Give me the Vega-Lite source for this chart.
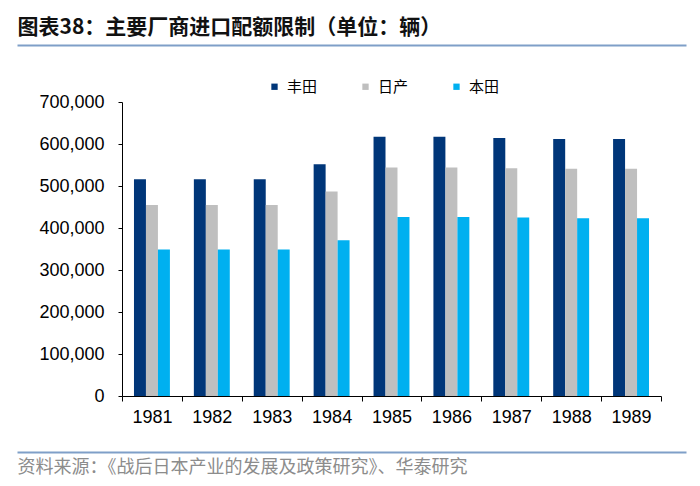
{
  "$schema": "https://vega.github.io/schema/vega-lite/v6.json",
  "autosize": {"type": "none"},
  "padding": {"left": 122, "top": 102, "right": 39, "bottom": 90},
  "width": 539,
  "height": 294,
  "background": "white",
  "config": {
    "view": {"stroke": null},
    "font": "Liberation Sans"
  },
  "data": {
    "values": [
      {"year": "1981", "maker": "丰田", "value": 516000},
      {"year": "1981", "maker": "日产", "value": 455000},
      {"year": "1981", "maker": "本田", "value": 349000},
      {"year": "1982", "maker": "丰田", "value": 516000},
      {"year": "1982", "maker": "日产", "value": 455000},
      {"year": "1982", "maker": "本田", "value": 349000},
      {"year": "1983", "maker": "丰田", "value": 516000},
      {"year": "1983", "maker": "日产", "value": 455000},
      {"year": "1983", "maker": "本田", "value": 349000},
      {"year": "1984", "maker": "丰田", "value": 552000},
      {"year": "1984", "maker": "日产", "value": 487000},
      {"year": "1984", "maker": "本田", "value": 371000},
      {"year": "1985", "maker": "丰田", "value": 617000},
      {"year": "1985", "maker": "日产", "value": 544000},
      {"year": "1985", "maker": "本田", "value": 426000},
      {"year": "1986", "maker": "丰田", "value": 617000},
      {"year": "1986", "maker": "日产", "value": 544000},
      {"year": "1986", "maker": "本田", "value": 426000},
      {"year": "1987", "maker": "丰田", "value": 614000},
      {"year": "1987", "maker": "日产", "value": 542000},
      {"year": "1987", "maker": "本田", "value": 425000},
      {"year": "1988", "maker": "丰田", "value": 612000},
      {"year": "1988", "maker": "日产", "value": 541000},
      {"year": "1988", "maker": "本田", "value": 423000},
      {"year": "1989", "maker": "丰田", "value": 612000},
      {"year": "1989", "maker": "日产", "value": 541000},
      {"year": "1989", "maker": "本田", "value": 423000}
    ]
  },
  "resolve": {"scale": {"x": "independent"}, "axis": {"x": "independent"}},
  "layer": [
    {
      "mark": {"type": "bar"},
      "encoding": {
        "x": {
          "field": "year", "type": "nominal",
          "scale": {"paddingInner": 0, "paddingOuter": 0},
          "axis": {
            "orient": "bottom", "title": null, "labelAngle": 0,
            "labelFontSize": 18, "labelColor": "#000000", "labelFont": "Liberation Sans",
            "tickBand": "extent", "tickSize": 5, "tickColor": "#000000",
            "domainColor": "#000000", "labelPadding": 7
          }
        },
        "xOffset": {
          "field": "maker", "type": "nominal",
          "sort": ["丰田", "日产", "本田"],
          "scale": {"paddingInner": 0, "paddingOuter": 1.17}
        },
        "y": {
          "field": "value", "type": "quantitative",
          "scale": {"domain": [0, 700000], "nice": false},
          "axis": {
            "title": null, "values": [0, 100000, 200000, 300000, 400000, 500000, 600000, 700000],
            "format": ",.0f", "grid": false, "labelFontSize": 18, "labelColor": "#000000",
            "labelFont": "Liberation Sans", "tickSize": 4, "tickColor": "#000000",
            "domainColor": "#000000", "labelPadding": 14
          }
        },
        "color": {
          "field": "maker", "type": "nominal",
          "scale": {"domain": ["丰田", "日产", "本田"], "range": ["#003679", "#BFBFBF", "#00B0F0"]},
          "legend": {
            "orient": "none", "legendX": 145, "legendY": -23, "direction": "horizontal",
            "title": null, "symbolType": "square", "symbolSize": 40,
            "labelFontSize": 15, "labelFont": "Noto Sans CJK SC", "labelColor": "#000000",
            "columnPadding": 40, "labelOffset": 5, "padding": 0, "symbolStrokeWidth": 0
          }
        }
      }
    },
    {
      "mark": {"type": "tick", "opacity": 0},
      "encoding": {
        "x": {
          "datum": 0, "type": "quantitative",
          "scale": {"domain": [0, 1], "range": [-105, 564]},
          "axis": {
            "orient": "top", "offset": 57, "ticks": false, "labels": false, "grid": false,
            "domainColor": "#7F9FC8", "domainWidth": 2,
            "title": "图表38：主要厂商进口配额限制（单位：辆）",
            "titleAnchor": "start", "titleAlign": "left",
            "titleFont": "Noto Sans CJK SC", "titleFontSize": 21, "titleFontWeight": "bold",
            "titleColor": "#111111", "titlePadding": 8
          }
        }
      }
    },
    {
      "mark": {"type": "tick", "opacity": 0},
      "encoding": {
        "x": {
          "datum": 0, "type": "quantitative",
          "scale": {"domain": [0, 1], "range": [-105, 564]},
          "axis": {
            "orient": "bottom", "offset": 56, "ticks": false, "labels": false, "grid": false,
            "domainColor": "#7F9FC8", "domainWidth": 2,
            "title": "资料来源：《战后日本产业的发展及政策研究》、华泰研究",
            "titleAnchor": "start", "titleAlign": "left",
            "titleFont": "Noto Sans CJK SC", "titleFontSize": 18, "titleFontWeight": "normal",
            "titleColor": "#8C8C8C", "titlePadding": 6
          }
        }
      }
    }
  ]
}
